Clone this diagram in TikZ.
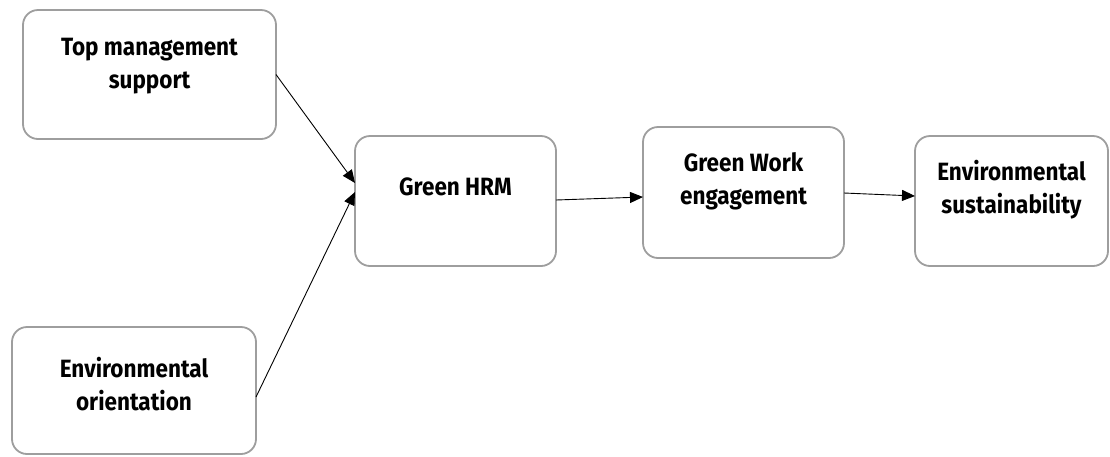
\documentclass[tikz,border=0pt]{standalone}
\usepackage{fontspec}
\setmainfont{Fira Sans}[FakeStretch=0.9]
\usetikzlibrary{arrows.meta}
\tikzset{
  box/.style={draw=black!38, line width=1.8pt, rounded corners=15pt, fill=white,
    inner sep=0pt, outer sep=0pt},
  txt/.style={align=center, font=\fontsize{25}{33}\selectfont\bfseries, inner sep=0pt},
  link/.style={draw=black, line width=0.9pt, -{Triangle[length=13pt,width=11pt]}},
}
\begin{document}
\begin{tikzpicture}[x=1pt,y=-1pt]
\useasboundingbox[fill=white] (0,0) rectangle (1110,456);
% boxes
\node[box, minimum width=253pt, minimum height=129pt] (tms) at (149.5,74.5) {};
\node[box, minimum width=244pt, minimum height=127pt] (eo)  at (134,390.5) {};
\node[box, minimum width=201pt, minimum height=130pt] (hrm) at (455.5,201) {};
\node[box, minimum width=201pt, minimum height=131pt] (gwe) at (743.5,192.5) {};
\node[box, minimum width=193pt, minimum height=130pt] (es)  at (1011.5,201) {};
% labels
\node[txt] (tmsL) at (149.5,66) {Top management\\support};
\node[txt] (eoL)  at (134,384) {Environmental\\orientation};
\node[txt] (hrmL) at (455.5,187) {Green HRM};
\node[txt] (gweL) at (743.5,181) {Green Work\\engagement};
\node[txt] (esL)  at (1011.5,190) {Environmental\\sustainability};
% connectors
\draw[link] (tms.east) -- ([yshift=18pt]hrm.west);
\draw[link] ([yshift=-6.5pt]eo.east) -- ([yshift=9pt]hrm.west);
\draw[link] ([yshift=1pt]hrm.east) -- ([yshift=-4.5pt]gwe.west);
\draw[link] ([yshift=-0.5pt]gwe.east) -- ([yshift=5pt]es.west);
\end{tikzpicture}
\end{document}
